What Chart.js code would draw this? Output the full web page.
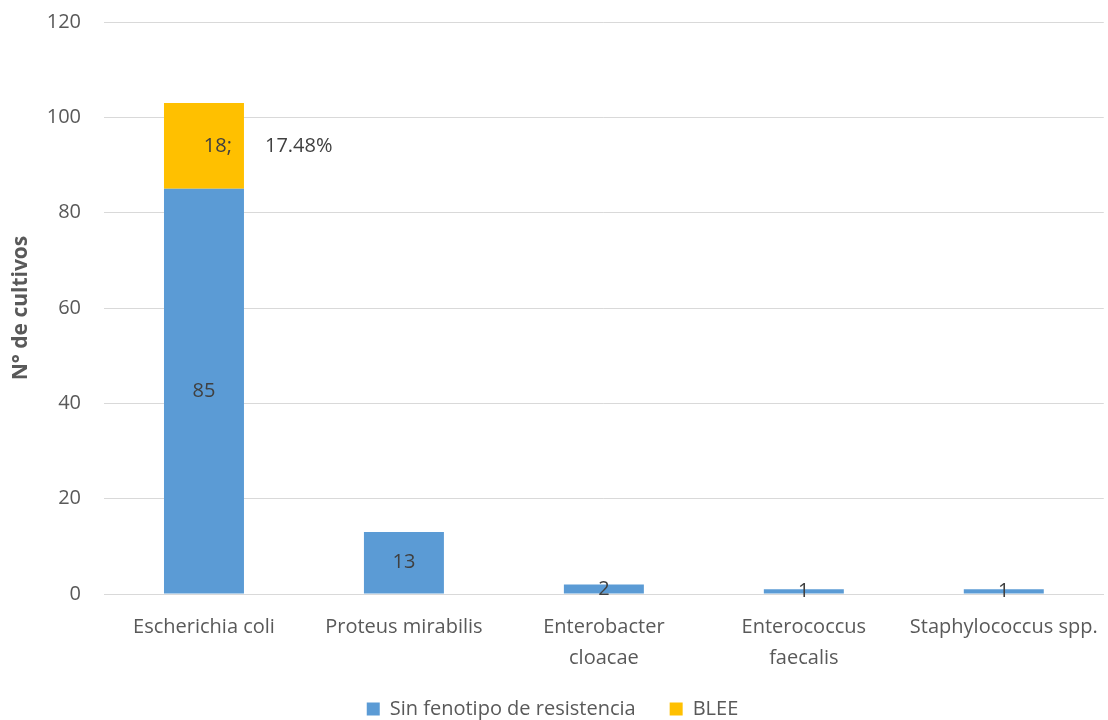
<!DOCTYPE html>
<html>
<head>
<meta charset="utf-8">
<script src="https://cdn.jsdelivr.net/npm/chart.js@4.4.1/dist/chart.umd.min.js"></script>
<style>
  html, body { margin: 0; padding: 0; background: #fff; }
  #wrap { width: 1108px; height: 720px; }
</style>
</head>
<body>
<div id="wrap"><canvas id="chart"></canvas></div>
<script>
// organisms on the x axis (two-line names split into arrays)
const organisms = [
  'Escherichia coli',
  'Proteus mirabilis',
  ['Enterobacter', 'cloacae'],
  ['Enterococcus', 'faecalis'],
  'Staphylococcus spp.'
];
const sinFenotipo = [85, 13, 2, 1, 1];
const blee = [18, 0, 0, 0, 0];
const yTicks = [0, 20, 40, 60, 80, 100, 120];

const FONT = '"Open Sans", "Liberation Sans", sans-serif';
const TEXT = '#595959';

// value labels: centred in each segment, BLEE also gets its share of the stack
const barLabels = {
  id: 'barLabels',
  afterDatasetsDraw(chart) {
    const ctx = chart.ctx;
    ctx.save();
    ctx.font = '20px ' + FONT;
    ctx.fillStyle = '#404040';
    ctx.textBaseline = 'middle';
    chart.data.datasets.forEach((ds, di) => {
      const meta = chart.getDatasetMeta(di);
      meta.data.forEach((bar, i) => {
        const v = ds.data[i];
        if (!v) return;
        const y = (bar.y + bar.base) / 2;
        if (ds.label === 'BLEE') {
          const total = sinFenotipo[i] + blee[i];
          const pct = (v / total * 100).toFixed(2) + '%';
          ctx.textAlign = 'right';
          ctx.fillText(v + ';', bar.x + 28, y);
          ctx.textAlign = 'left';
          ctx.fillText(pct, bar.x + 61, y);
        } else {
          ctx.textAlign = 'center';
          ctx.fillText(String(v), bar.x, y);
        }
      });
    });
    ctx.restore();
  }
};

new Chart(document.getElementById('chart'), {
  type: 'bar',
  data: {
    labels: organisms,
    datasets: [
      { label: 'Sin fenotipo de resistencia', data: sinFenotipo, backgroundColor: '#5B9BD5' },
      { label: 'BLEE', data: blee, backgroundColor: '#FFC000' }
    ]
  },
  options: {
    responsive: true,
    maintainAspectRatio: false,
    animation: false,
    datasets: { bar: { categoryPercentage: 1, barPercentage: 0.4 } },
    layout: { padding: { top: 22, right: 3, left: 0, bottom: -9 } },
    scales: {
      x: {
        stacked: true,
        afterFit(axis) { axis.height = 71; },
        grid: { display: false },
        border: { color: '#d9d9d9', width: 1 },
        ticks: { color: TEXT, font: { family: FONT, size: 20, lineHeight: 1.55 }, padding: 10, maxRotation: 0, autoSkip: false }
      },
      y: {
        stacked: true,
        min: 0,
        max: 120,
        afterBuildTicks(axis) { axis.ticks = yTicks.map(v => ({ value: v })); },
        afterFit(axis) {
          axis.width = 104;
          axis.paddingTop = 0;
          axis.paddingBottom = 0;
        },
        grid: { color: '#d9d9d9', drawTicks: false, tickLength: 0 },
        border: { display: false },
        ticks: { color: TEXT, font: { family: FONT, size: 20 }, padding: 23 },
        title: { display: true, text: 'N° de cultivos', color: TEXT, font: { family: FONT, size: 21, weight: 'bold' }, padding: { top: 8, bottom: 12 } }
      }
    },
    plugins: {
      tooltip: { enabled: false },
      legend: {
        position: 'bottom',
        labels: { color: TEXT, font: { family: FONT, size: 20 }, boxWidth: 13, boxHeight: 13, padding: 34 }
      }
    }
  },
  plugins: [barLabels]
});
</script>
</body>
</html>
